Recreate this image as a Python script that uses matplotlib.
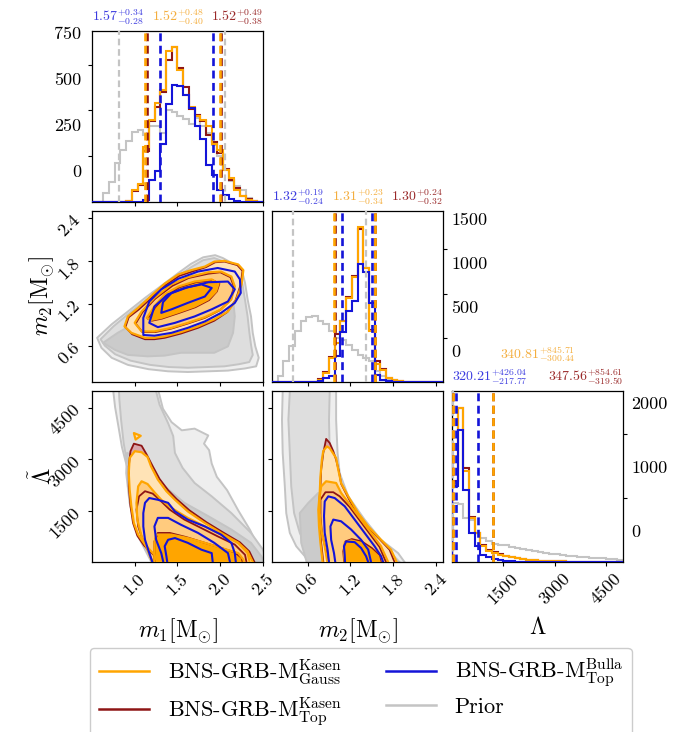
import numpy as np
import matplotlib
matplotlib.use("Agg")
import matplotlib.pyplot as plt
from matplotlib.lines import Line2D

plt.rcParams.update({
    "font.family": "serif",
    "font.serif": ["cmr10", "DejaVu Serif"],
    "mathtext.fontset": "cm",
    "axes.formatter.use_mathtext": True,
    "axes.unicode_minus": False,
    "xtick.labelsize": 13,
    "ytick.labelsize": 13,
    "axes.linewidth": 0.9,
    "xtick.major.size": 3,
    "ytick.major.size": 3,
})

# ============================ DATA ============================
param_ranges = {"m1": (0.5, 2.5), "m2": (0.1, 2.5), "Lambda": (0, 5000)}
n_bins = 30
tick_values = {"m1": [1.0, 1.5, 2.0, 2.5], "m2": [0.6, 1.2, 1.8, 2.4], "Lambda": [1500, 3000, 4500]}
tick_labels = {"m1": ["1.0", "1.5", "2.0", "2.5"], "m2": ["0.6", "1.2", "1.8", "2.4"],
               "Lambda": ["1500", "3000", "4500"]}

# 1D histogram counts (30 bins over each parameter range)
hist_m1_gauss = [0, 0, 0, 0, 0, 0, 7, 67, 100, 300, 450, 540, 610, 822, 846, 722, 586, 517, 471, 446,
                 413, 318, 282, 176, 131, 67, 31, 13, 4, 0]
hist_m1_top = [0, 0, 0, 0, 0, 0, 5, 60, 95, 280, 440, 520, 600, 777, 846, 731, 626, 505, 475, 440,
               367, 330, 270, 180, 120, 75, 35, 15, 5, 0]
hist_m1_bulla = [0, 0, 0, 0, 0, 0, 0, 0, 0, 9, 118, 167, 318, 537, 640, 631, 586, 513, 413, 344,
                 204, 149, 67, 40, 16, 4, 0, 0, 0, 0]
hist_m1_prior = [0, 0, 49, 107, 213, 282, 331, 380, 391, 367, 413, 417, 377, 500, 489, 467, 453, 427,
                 458, 413, 377, 313, 249, 176, 113, 89, 67, 22, 0, 0]

hist_m2_gauss = [0, 0, 0, 0, 0, 0, 0, 0, 26, 102, 271, 441, 686, 950, 1188, 1753, 1289, 573, 200, 139,
                 45, 19, 8, 0, 0, 0, 0, 0, 0, 0]
hist_m2_top = [0, 0, 0, 0, 0, 0, 0, 0, 30, 113, 280, 543, 686, 961, 1200, 1730, 1289, 592, 240, 150,
               50, 20, 8, 0, 0, 0, 0, 0, 0, 0]
hist_m2_bulla = [0, 0, 0, 0, 0, 0, 0, 0, 8, 45, 64, 290, 562, 800, 912, 1338, 1240, 894, 83, 26,
                 10, 4, 0, 0, 0, 0, 0, 0, 0, 0]
hist_m2_prior = [0, 64, 234, 403, 573, 686, 731, 743, 686, 660, 573, 498, 479, 422, 366, 309, 271, 234,
                 121, 64, 26, 8, 0, 0, 0, 0, 0, 0, 0, 0]

hist_lam_gauss = [1230, 2407, 1417, 688, 453, 255, 177, 141, 115, 100, 80, 60, 45, 35, 28, 22, 17, 13,
                  10, 8, 6, 5, 4, 3, 2, 2, 1, 1, 1, 0]
hist_lam_top = [1261, 2407, 1469, 700, 460, 265, 185, 150, 120, 100, 80, 62, 47, 36, 28, 22, 17, 13,
                10, 8, 6, 5, 4, 3, 2, 2, 1, 1, 1, 0]
hist_lam_bulla = [1183, 2068, 1131, 453, 245, 115, 78, 47, 26, 16, 10, 6, 4, 3, 2, 1, 1, 0, 0, 0,
                  0, 0, 0, 0, 0, 0, 0, 0, 0, 0]
hist_lam_prior = [922, 912, 688, 662, 453, 375, 323, 280, 265, 261, 240, 215, 200, 185, 170, 155, 145,
                  130, 120, 110, 100, 95, 85, 75, 68, 60, 55, 42, 40, 35]

# median, minus error, plus error
stats_m1 = {"bulla": (1.57, 0.28, 0.34), "gauss": (1.52, 0.40, 0.48), "top": (1.52, 0.38, 0.49)}
stats_m2 = {"bulla": (1.32, 0.24, 0.19), "gauss": (1.31, 0.34, 0.23), "top": (1.30, 0.32, 0.24)}
stats_lam = {"bulla": (320.21, 217.77, 426.04), "gauss": (340.81, 300.44, 845.71),
             "top": (347.56, 319.50, 854.61)}
prior_quantiles = {"m1": [0.81, 2.05], "m2": [0.40, 1.42], "Lambda": [20, 5200]}

# ---- 2D credible contours (vertices) ----
# m1 - m2
m1m2_prior_0 = ([0.56, 0.73, 0.92, 1.12, 1.31, 1.51, 1.66, 1.80, 1.94, 2.03, 2.15, 2.25, 2.29, 2.32, 2.36,
                 2.38, 2.41, 2.45, 2.42, 2.29, 2.09, 1.86, 1.62, 1.39, 1.16, 0.92, 0.73, 0.61],
                [0.72, 0.91, 1.09, 1.28, 1.45, 1.63, 1.76, 1.85, 1.88, 1.84, 1.76, 1.68, 1.49, 1.26, 1.02,
                 0.79, 0.60, 0.44, 0.32, 0.29, 0.26, 0.25, 0.24, 0.25, 0.28, 0.34, 0.44, 0.58])
m1m2_prior_1 = ([0.60, 0.75, 0.93, 1.13, 1.32, 1.52, 1.67, 1.80, 1.93, 2.02, 2.13, 2.22, 2.26, 2.29, 2.32,
                 2.34, 2.36, 2.38, 2.34, 2.22, 2.05, 1.85, 1.62, 1.40, 1.18, 0.95, 0.77, 0.65],
                [0.70, 0.88, 1.06, 1.25, 1.42, 1.60, 1.72, 1.81, 1.84, 1.80, 1.73, 1.65, 1.47, 1.25, 1.02,
                 0.80, 0.62, 0.48, 0.38, 0.35, 0.32, 0.31, 0.30, 0.31, 0.34, 0.40, 0.49, 0.61])
m1m2_prior_2 = ([0.63, 0.80, 1.04, 1.23, 1.47, 1.70, 1.90, 2.05, 2.15, 2.17, 2.15, 2.09, 1.93, 1.70, 1.54,
                 1.35, 1.15, 0.92, 0.77],
                [0.65, 0.79, 0.95, 1.09, 1.23, 1.35, 1.42, 1.40, 1.26, 1.02, 0.79, 0.60, 0.51, 0.51, 0.51,
                 0.47, 0.46, 0.48, 0.55])
m1m2_gauss_0 = ([0.88, 0.92, 1.04, 1.23, 1.35, 1.51, 1.66, 1.82, 1.93, 2.05, 2.21, 2.27, 2.25, 2.19, 2.09,
                 1.93, 1.74, 1.54, 1.35, 1.23, 1.12, 0.96],
                [0.88, 1.02, 1.14, 1.35, 1.48, 1.61, 1.67, 1.72, 1.79, 1.80, 1.75, 1.67, 1.47, 1.26, 1.09,
                 0.98, 0.88, 0.80, 0.74, 0.72, 0.72, 0.79])
m1m2_gauss_1 = ([1.00, 1.08, 1.23, 1.43, 1.62, 1.86, 2.01, 2.13, 2.17, 2.13, 2.01, 1.82, 1.62, 1.43, 1.23, 1.08],
                [0.93, 1.09, 1.28, 1.47, 1.57, 1.64, 1.65, 1.58, 1.44, 1.26, 1.12, 1.01, 0.93, 0.86, 0.81, 0.81])
m1m2_gauss_2 = ([1.14, 1.23, 1.35, 1.51, 1.70, 1.90, 1.98, 1.95, 1.86, 1.70, 1.51, 1.31, 1.19],
                [1.00, 1.16, 1.33, 1.44, 1.51, 1.54, 1.48, 1.37, 1.26, 1.16, 1.08, 1.00, 0.97])
m1m2_top_0 = ([0.89, 0.93, 1.05, 1.24, 1.36, 1.52, 1.67, 1.83, 1.94, 2.05, 2.20, 2.26, 2.24, 2.18, 2.08,
               1.93, 1.74, 1.54, 1.35, 1.23, 1.12, 0.97],
              [0.87, 1.01, 1.12, 1.33, 1.46, 1.59, 1.65, 1.71, 1.78, 1.79, 1.74, 1.66, 1.47, 1.25, 1.08,
               0.96, 0.86, 0.78, 0.72, 0.70, 0.70, 0.77])
m1m2_top_1 = ([1.01, 1.09, 1.24, 1.44, 1.63, 1.86, 2.00, 2.12, 2.16, 2.12, 2.00, 1.82, 1.62, 1.43, 1.24, 1.09],
              [0.92, 1.08, 1.27, 1.45, 1.56, 1.62, 1.64, 1.57, 1.44, 1.25, 1.11, 1.00, 0.92, 0.85, 0.80, 0.80])
m1m2_top_2 = ([1.15, 1.24, 1.36, 1.52, 1.71, 1.91, 1.99, 1.96, 1.87, 1.71, 1.52, 1.32, 1.20],
              [0.99, 1.15, 1.31, 1.43, 1.50, 1.53, 1.48, 1.37, 1.25, 1.15, 1.07, 0.99, 0.96])
m1m2_bulla_0 = ([1.10, 1.10, 1.17, 1.31, 1.51, 1.74, 1.97, 2.17, 2.23, 2.24, 2.17, 2.01, 1.82, 1.62, 1.43, 1.23],
                [0.76, 1.00, 1.23, 1.40, 1.55, 1.65, 1.70, 1.65, 1.54, 1.35, 1.21, 1.07, 0.95, 0.86, 0.79, 0.75])
m1m2_bulla_1 = ([1.17, 1.23, 1.39, 1.62, 1.86, 2.09, 2.17, 2.09, 1.90, 1.70, 1.47, 1.27],
                [0.93, 1.16, 1.33, 1.43, 1.50, 1.51, 1.40, 1.23, 1.12, 1.02, 0.93, 0.87])
m1m2_bulla_2 = ([1.31, 1.33, 1.43, 1.58, 1.78, 1.90, 1.82, 1.62, 1.43],
                [1.07, 1.22, 1.35, 1.42, 1.47, 1.42, 1.30, 1.21, 1.12])

# m1 - Lambda
m1lam_prior_0 = ([0.74, 0.75, 0.77, 0.81, 0.85, 0.91, 0.96, 1.04, 1.16, 1.30, 1.49, 1.72, 2.00, 2.23, 2.32,
                  2.56, 2.50, 2.46, 2.35, 2.21, 2.08, 1.96, 1.90, 1.87, 1.81, 1.86, 1.78, 1.70, 1.55, 1.43,
                  1.33, 1.28, 1.26],
                 [5330, 4970, 4530, 3950, 3360, 2780, 2290, 1800, 1320, 930, 630, 390, 195, 50, -175,
                  -175, 0, 340, 930, 1510, 2100, 2490, 2880, 3270, 3460, 3700, 3800, 3900, 3850, 4090,
                  4480, 4970, 5330])
m1lam_prior_1 = ([0.81, 0.82, 0.84, 0.87, 0.91, 0.97, 1.04, 1.14, 1.27, 1.45, 1.70, 2.01, 2.29, 2.36,
                  2.58, 2.50, 2.36, 2.13, 1.90, 1.70, 1.56, 1.47, 1.45, 1.39, 1.29, 1.25, 1.23],
                 [5330, 4750, 4160, 3480, 2900, 2310, 1820, 1380, 990, 700, 460, 260, 70, -175,
                  -175, 360, 850, 1430, 1920, 2310, 2750, 3190, 3680, 4060, 4600, 4990, 5330])
m1lam_prior_2 = ([0.91, 1.04, 1.19, 1.35, 1.58, 1.86, 2.13, 2.36, 2.48, 2.54, 1.23, 1.04, 0.94, 0.90],
                 [3190, 3040, 2700, 2210, 1730, 1340, 950, 560, 170, -175, -175, 750, 1730, 2600])
m1lam_gauss_0 = ([1.00, 0.94, 0.93, 0.94, 0.96, 0.99, 1.04, 1.12, 1.23, 1.29, 2.40, 2.38, 2.32, 2.21, 2.01,
                  1.82, 1.62, 1.47, 1.37, 1.27, 1.19, 1.15, 1.08],
                 [3240, 3040, 2600, 2120, 1630, 1140, 800, 510, 210, -175, -175, 0, 310, 560, 850,
                  1140, 1480, 1820, 2070, 2410, 2800, 3070, 3210])
m1lam_gauss_1 = ([1.08, 1.04, 1.02, 1.03, 1.08, 1.15, 1.23, 2.36, 2.32, 2.21, 2.01, 1.82, 1.62, 1.43, 1.31,
                  1.23, 1.15],
                 [2360, 2210, 1730, 1240, 750, 360, -175, -175, 260, 560, 800, 1040, 1290, 1580, 1820,
                  2040, 2280])
m1lam_gauss_2 = ([1.25, 1.23, 1.23, 2.29, 2.27, 2.21, 2.01, 1.82, 1.62, 1.43],
                 [800, 560, -175, -175, 70, 260, 410, 560, 700, 800])
m1lam_gauss_island = ([0.99, 1.07, 1.01], [3770, 3690, 3580])
m1lam_top_0 = ([0.99, 0.95, 0.93, 0.93, 0.95, 0.98, 1.03, 1.11, 1.23, 1.28, 2.42, 2.40, 2.34, 2.23, 2.03,
                1.84, 1.64, 1.49, 1.39, 1.29, 1.21, 1.14, 1.08],
               [3460, 3240, 2800, 2210, 1630, 1140, 770, 480, 185, -175, -175, 0, 310, 575, 870,
                1160, 1510, 1840, 2100, 2430, 2800, 3140, 3400])
m1lam_top_1 = ([1.12, 1.05, 1.02, 1.04, 1.10, 1.17, 1.23, 2.32, 2.29, 2.17, 1.97, 1.78, 1.58, 1.41, 1.29, 1.21],
               [2070, 1920, 1530, 1040, 600, 260, -175, -175, 210, 510, 750, 990, 1240, 1530, 1820, 2000])
m1lam_top_2 = ([1.27, 1.23, 1.23, 2.28, 2.25, 2.17, 1.99, 1.80, 1.60, 1.41],
               [850, 600, -175, -175, 120, 280, 430, 575, 730, 850])
m1lam_bulla_0 = ([1.17, 1.12, 1.10, 1.10, 1.12, 1.17, 1.23, 2.19, 2.17, 2.13, 2.01, 1.82, 1.62, 1.47, 1.39, 1.27],
                 [1870, 1730, 1430, 1040, 650, 260, -175, -175, 260, 560, 800, 1040, 1240, 1480, 1730, 1820])
m1lam_bulla_1 = ([1.27, 1.23, 1.25, 1.31, 1.35, 2.13, 2.09, 1.93, 1.74, 1.54, 1.39],
                 [1290, 1040, 650, 260, -175, -175, 260, 560, 850, 1090, 1290])
m1lam_bulla_2 = ([1.39, 1.35, 1.37, 1.39, 1.92, 1.90, 1.78, 1.62, 1.47],
                 [650, 460, 170, -175, -175, 260, 360, 560, 700])

# m2 - Lambda
m2lam_prior_0 = ([0.25, 0.25, 0.24, 0.25, 0.28, 0.30, 0.35, 0.44, 0.56, 0.68,
                  2.01, 1.96, 1.87, 1.63, 1.40, 1.17, 1.05, 1.02, 1.00, 1.00, 1.00],
                 [5330, 4990, 4160, 3190, 2210, 1430, 850, 460, 170, -175,
                  -175, 0, 260, 650, 1240, 1920, 2600, 3190, 4160, 4990, 5330])
m2lam_prior_1 = ([0.35, 0.35, 0.33, 0.35, 0.37, 0.41, 0.49, 0.61, 0.72,
                  1.92, 1.89, 1.77, 1.54, 1.31, 1.07, 0.96, 0.91, 0.90, 0.91, 0.91],
                 [5330, 4990, 4160, 3190, 2210, 1430, 850, 360, -175,
                  -175, 0, 260, 650, 1240, 1920, 2600, 3190, 4160, 4990, 5330])
m2lam_prior_2 = ([0.49, 0.61, 0.75, 0.86, 0.98, 1.12, 1.26, 0.61, 0.51],
                 [1430, 1730, 2020, 1920, 1240, 560, -175, -175, 560])
m2lam_gauss_0 = ([0.87, 0.82, 0.80, 0.78, 0.77, 0.75, 0.76, 0.78, 0.82, 1.87, 1.85, 1.77, 1.63, 1.45, 1.31,
                  1.17, 1.07, 1.03, 1.00, 0.95, 0.91],
                 [3380, 3250, 2990, 2500, 2020, 1530, 1040, 560, -175, -175, 0, 360, 650, 1040, 1430,
                  1920, 2310, 2700, 3040, 3200, 3330])
m2lam_gauss_1 = ([0.86, 0.79, 0.77, 0.77, 0.79, 0.84, 0.89, 1.75, 1.73, 1.63, 1.49, 1.35, 1.21, 1.07, 1.00],
                 [2360, 2210, 1920, 1430, 950, 460, -175, -175, 0, 460, 850, 1240, 1630, 2020, 2310])
m2lam_gauss_2 = ([1.12, 1.11, 1.13, 1.63, 1.61, 1.59, 1.49, 1.35, 1.21],
                 [560, 260, -175, -175, 0, 170, 360, 560, 630])
m2lam_top_0 = ([0.86, 0.82, 0.79, 0.78, 0.76, 0.77, 0.79, 0.83, 1.85, 1.82, 1.75, 1.61, 1.42, 1.28, 1.16,
                1.07, 1.04, 1.00, 0.96, 0.91],
               [3600, 3190, 2700, 2210, 1630, 1040, 560, -175, -175, 0, 360, 670, 1060, 1450, 1920,
                2290, 2650, 2990, 3240, 3480])
m2lam_top_1 = ([0.85, 0.78, 0.78, 0.80, 0.85, 0.90, 1.73, 1.70, 1.61, 1.47, 1.33, 1.19, 1.05, 0.96],
               [2040, 1820, 1340, 850, 410, -175, -175, 0, 440, 830, 1220, 1610, 1920, 2040])
m2lam_top_2 = ([1.13, 1.10, 1.12, 1.66, 1.63, 1.60, 1.50, 1.36, 1.22],
               [600, 310, -175, -175, 0, 210, 410, 600, 670])
m2lam_bulla_0 = ([0.89, 0.84, 0.83, 0.84, 0.88, 0.91, 1.67, 1.66, 1.63, 1.54, 1.40, 1.26, 1.12, 0.98],
                 [1920, 1770, 1340, 850, 360, -175, -175, 0, 170, 460, 850, 1240, 1630, 1870])
m2lam_bulla_1 = ([0.96, 0.92, 0.93, 0.97, 1.00, 1.50, 1.49, 1.45, 1.35, 1.21, 1.07],
                 [1240, 1040, 650, 260, -175, -175, 0, 360, 650, 950, 1190])
m2lam_bulla_2 = ([1.14, 1.11, 1.12, 1.13, 1.46, 1.45, 1.42, 1.35, 1.26],
                 [600, 460, 210, -175, -175, 0, 170, 410, 580])

legend_labels = [r"BNS-GRB-M$_{\rm Gauss}^{\rm Kasen}$", r"BNS-GRB-M$_{\rm Top}^{\rm Kasen}$",
                 r"BNS-GRB-M$_{\rm Top}^{\rm Bulla}$", "Prior"]

# ============================ STYLE ============================
C_GAUSS = "#FFA500"
C_TOP = "#8E1515"
C_BULLA = "#1414D8"
C_PRIOR = "#C4C4C4"
T_GAUSS, T_TOP, T_BULLA = "#F4AE3E", "#9A2A2A", "#3C3CE0"
GAUSS_FILLS = ["#FFE3B6", "#FFCB7E", "#FFA500"]
PRIOR_FILLS = ["#EEEEEE", "#DEDEDE", "#CBCBCB"]
TOP_FILL = "#D9A6AB"
DASH = (0, (3, 1.7))

W, H = 673, 732
col_px = [92, 272, 452]
row_px = [31, 211, 391]
S = 171


def rect(c, r):
    return [col_px[c] / W, 1 - (row_px[r] + S) / H, S / W, S / H]


fig = plt.figure(figsize=(W / 100, H / 100), dpi=100)

params = ["m1", "m2", "Lambda"]
hists = {
    "m1": {"prior": hist_m1_prior, "top": hist_m1_top, "gauss": hist_m1_gauss, "bulla": hist_m1_bulla},
    "m2": {"prior": hist_m2_prior, "top": hist_m2_top, "gauss": hist_m2_gauss, "bulla": hist_m2_bulla},
    "Lambda": {"prior": hist_lam_prior, "top": hist_lam_top, "gauss": hist_lam_gauss, "bulla": hist_lam_bulla},
}
stats = {"m1": stats_m1, "m2": stats_m2, "Lambda": stats_lam}
decimals = {"m1": 2, "m2": 2, "Lambda": 2}
hist_top = {"m1": 933, "m2": 1934, "Lambda": 2672}
hist_ticks = {"m1": [250, 500, 750], "m2": [500, 1000, 1500], "Lambda": [1000, 2000]}
hist_tlabels = {"m1": [0, 250, 500, 750], "m2": [0, 500, 1000, 1500], "Lambda": [0, 1000, 2000]}
hist_shift = {"m1": 172, "m2": 351, "Lambda": 480}


def fmt(med, lo, hi, d):
    return r"$%.*f^{+%.*f}_{-%.*f}$" % (d, med, d, hi, d, lo)


def hist_panel(i):
    p = params[i]
    ax = fig.add_axes(rect(i, i))
    lo, hi = param_ranges[p]
    edges = np.linspace(lo, hi, n_bins + 1)
    h = hists[p]
    for key, c, z in [("prior", C_PRIOR, 1), ("top", C_TOP, 2), ("gauss", C_GAUSS, 3), ("bulla", C_BULLA, 4)]:
        ax.stairs(h[key], edges, color=c, lw=1.5, zorder=z)
    for v in prior_quantiles[p]:
        ax.axvline(v, color=C_PRIOR, ls=DASH, lw=1.6, zorder=5)
    st = stats[p]
    for key, c, z in [("bulla", C_BULLA, 6), ("top", C_TOP, 7), ("gauss", C_GAUSS, 8)]:
        med, el, eh = st[key]
        for v in (med - el, med + eh):
            ax.axvline(v, color=c, ls=DASH, lw=1.9, zorder=z)
    ax.set_xlim(lo, hi)
    ax.set_ylim(0, hist_top[p])
    ax.set_xticks(tick_values[p])
    side = "left" if i == 0 else "right"
    ax.set_yticks(hist_ticks[p])
    ax.tick_params(axis="y", left=(side == "left"), right=(side == "right"),
                   labelleft=False, labelright=False)
    if i == 2:
        ax.set_xticklabels(tick_labels[p], rotation=45)
    else:
        ax.tick_params(axis="x", labelbottom=False)
    # count labels (offset relative to the tick marks, as in the original)
    lab = fig.add_axes(rect(i, i), frameon=False)
    lab.patch.set_visible(False)
    lab.set_xticks([])
    lab.set_ylim(-hist_shift[p], hist_top[p] - hist_shift[p])
    lab.set_yticks(hist_tlabels[p])
    lab.set_yticklabels([str(v) for v in hist_tlabels[p]])
    lab.tick_params(axis="y", length=0, pad=8 if side == "left" else 6,
                    left=False, right=False, labelleft=(side == "left"), labelright=(side == "right"))
    # quantile titles
    d = decimals[p]
    y_main = 1.022
    y_gauss = 1.155 if p == "Lambda" else 1.022
    ax.text(0.0, y_main, fmt(*st["bulla"], d), transform=ax.transAxes, ha="left", va="bottom",
            color=T_BULLA, fontsize=10)
    ax.text(0.5, y_gauss, fmt(*st["gauss"], d), transform=ax.transAxes, ha="center", va="bottom",
            color=T_GAUSS, fontsize=10)
    ax.text(1.0, y_main, fmt(*st["top"], d), transform=ax.transAxes, ha="right", va="bottom",
            color=T_TOP, fontsize=10)
    return ax


contours = {
    (1, 0): {"prior": [m1m2_prior_0, m1m2_prior_1, m1m2_prior_2],
             "gauss": [m1m2_gauss_0, m1m2_gauss_1, m1m2_gauss_2],
             "top": [m1m2_top_0, m1m2_top_1, m1m2_top_2],
             "bulla": [m1m2_bulla_0, m1m2_bulla_1, m1m2_bulla_2], "island": None},
    (2, 0): {"prior": [m1lam_prior_0, m1lam_prior_1, m1lam_prior_2],
             "gauss": [m1lam_gauss_0, m1lam_gauss_1, m1lam_gauss_2],
             "top": [m1lam_top_0, m1lam_top_1, m1lam_top_2],
             "bulla": [m1lam_bulla_0, m1lam_bulla_1, m1lam_bulla_2], "island": m1lam_gauss_island},
    (2, 1): {"prior": [m2lam_prior_0, m2lam_prior_1, m2lam_prior_2],
             "gauss": [m2lam_gauss_0, m2lam_gauss_1, m2lam_gauss_2],
             "top": [m2lam_top_0, m2lam_top_1, m2lam_top_2],
             "bulla": [m2lam_bulla_0, m2lam_bulla_1, m2lam_bulla_2], "island": None},
}


def panel2d(r, c):
    ax = fig.add_axes(rect(c, r))
    cd = contours[(r, c)]
    for (x, y), fc in zip(cd["prior"], PRIOR_FILLS):
        ax.fill(x, y, fc=fc, ec=C_PRIOR, lw=1.4, zorder=1, joinstyle="round")
    x, y = cd["top"][0]
    ax.fill(x, y, fc=TOP_FILL, ec="none", zorder=2)
    for (x, y), fc in zip(cd["gauss"], GAUSS_FILLS):
        ax.fill(x, y, fc=fc, ec="none", zorder=3)
    if cd["island"] is not None:
        x, y = cd["island"]
        ax.fill(x, y, fc=GAUSS_FILLS[0], ec=C_GAUSS, lw=1.6, zorder=6, joinstyle="round")
    for x, y in cd["top"]:
        ax.fill(x, y, fc="none", ec=C_TOP, lw=1.3, zorder=4, joinstyle="round")
    for x, y in cd["gauss"]:
        ax.fill(x, y, fc="none", ec=C_GAUSS, lw=1.6, zorder=5, joinstyle="round")
    for x, y in cd["bulla"]:
        ax.fill(x, y, fc="none", ec=C_BULLA, lw=1.5, zorder=7, joinstyle="round")
    px, py = params[c], params[r]
    ax.set_xlim(*param_ranges[px])
    ax.set_ylim(*param_ranges[py])
    ax.set_xticks(tick_values[px])
    ax.set_yticks(tick_values[py])
    if r == 2:
        ax.set_xticklabels(tick_labels[px], rotation=45)
    else:
        ax.tick_params(axis="x", labelbottom=False)
    if c == 0:
        ax.set_yticklabels(tick_labels[py], rotation=45)
    else:
        ax.tick_params(axis="y", labelleft=False)
    return ax


ax_h0 = hist_panel(0)
ax_h1 = hist_panel(1)
ax_h2 = hist_panel(2)
ax_10 = panel2d(1, 0)
ax_20 = panel2d(2, 0)
ax_21 = panel2d(2, 1)

# axis labels
ax_20.set_xlabel(r"$m_1[\mathrm{M}_{\odot}]$", fontsize=17)
ax_21.set_xlabel(r"$m_2[\mathrm{M}_{\odot}]$", fontsize=17)
ax_h2.set_xlabel(r"$\Lambda$", fontsize=17)
for a in (ax_20, ax_21, ax_h2):
    a.xaxis.set_label_coords(0.5, -0.32)
ax_10.set_ylabel(r"$m_2[\mathrm{M}_{\odot}]$", fontsize=17)
ax_20.set_ylabel(r"$\tilde{\Lambda}$", fontsize=17)
for a in (ax_10, ax_20):
    a.yaxis.set_label_coords(-0.21, 0.5)

handles = [Line2D([], [], color=C_GAUSS, lw=1.8), Line2D([], [], color=C_TOP, lw=1.8),
           Line2D([], [], color=C_BULLA, lw=1.8), Line2D([], [], color=C_PRIOR, lw=1.8)]
fig.legend(handles, legend_labels, ncol=2, loc="upper left", bbox_to_anchor=(90 / W, 1 - 648 / H),
           fontsize=16, handlelength=2.25, handletextpad=0.85, columnspacing=2.0,
           labelspacing=0.35, borderaxespad=0.0, frameon=True, fancybox=True,
           edgecolor="#CCCCCC", framealpha=1.0)

fig.savefig("out.png", dpi=100)
